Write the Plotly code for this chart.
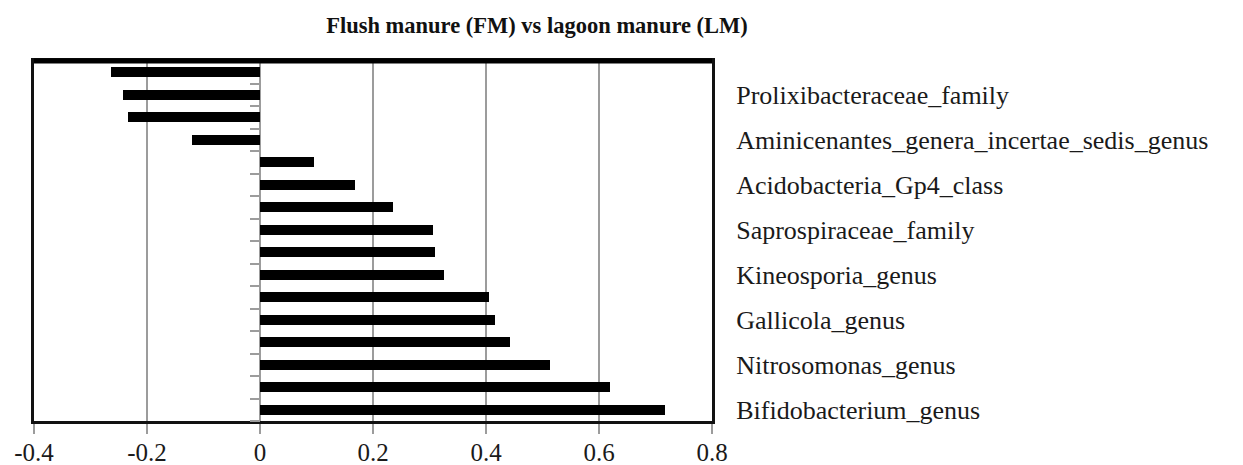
import plotly.graph_objects as go

# Data (top to bottom)
tick_labels = ["", "Prolixibacteraceae_family",
               "", "Aminicenantes_genera_incertae_sedis_genus",
               "", "Acidobacteria_Gp4_class",
               "", "Saprospiraceae_family",
               "", "Kineosporia_genus",
               "", "Gallicola_genus",
               "", "Nitrosomonas_genus",
               "", "Bifidobacterium_genus"]
values = [-0.264, -0.243, -0.234, -0.121,
          0.096, 0.169, 0.236, 0.306,
          0.309, 0.326, 0.406, 0.416,
          0.443, 0.513, 0.620, 0.717]
positions = list(range(len(values)))
x_range = [-0.4, 0.8]
x_ticks = [-0.4, -0.2, 0, 0.2, 0.4, 0.6, 0.8]
x_ticktext = ["-0.4", "-0.2", "0", "0.2", "0.4", "0.6", "0.8"]
title = "Flush manure (FM) vs lagoon manure (LM)"

FONT = "Liberation Serif"
GRID = "#9c9c9c"

fig = go.Figure()
fig.add_trace(go.Bar(
    x=values, y=positions, orientation="h",
    marker=dict(color="black", line=dict(width=0)),
    width=0.43, showlegend=False, hoverinfo="x",
))
# invisible trace for the tick axis at zero
fig.add_trace(go.Scatter(x=[None], y=[None], yaxis="y2", showlegend=False))

y_range = [len(values) - 0.5, -0.5]
boundaries = [p - 0.5 for p in positions] + [positions[-1] + 0.5]
zero_pos = (0 - x_range[0]) / (x_range[1] - x_range[0])

fig.update_layout(
    width=1243, height=465,
    margin=dict(l=34, r=531, t=61, b=44, autoexpand=False),
    paper_bgcolor="white", plot_bgcolor="white",
    bargap=0,
    font=dict(family=FONT, color="#1a1a1a", size=26),
    title=dict(text="<b>" + title + "</b>", x=537 / 1243, xanchor="center",
               xref="container", yref="container",
               y=1 - 25 / 465, yanchor="middle",
               font=dict(family=FONT, size=22.5, color="#111")),
    xaxis=dict(range=x_range, tickvals=x_ticks, ticktext=x_ticktext,
               showgrid=True, gridcolor=GRID, gridwidth=2,
               zeroline=True, zerolinecolor=GRID, zerolinewidth=2,
               ticks="outside", ticklen=10, tickwidth=2, tickcolor=GRID,
               showline=True, linecolor="#111", linewidth=3, mirror=True,
               ticklabelstandoff=-3,
               tickfont=dict(size=25, family=FONT, color="#1a1a1a"),
               automargin=False, fixedrange=True),
    yaxis=dict(range=y_range, tickvals=positions, ticktext=tick_labels,
               side="right", ticks="", showgrid=False, zeroline=False,
               showline=True, linecolor="#111", linewidth=3, mirror=True,
               ticklabelstandoff=16,
               tickfont=dict(size=26, family=FONT, color="#1a1a1a"),
               automargin=False, fixedrange=True),
    yaxis2=dict(range=y_range, overlaying="y", anchor="free", position=zero_pos,
                side="left", tickvals=boundaries, showticklabels=False,
                ticks="outside", ticklen=10, tickwidth=2, tickcolor=GRID,
                showline=False, showgrid=False, zeroline=False,
                automargin=False, fixedrange=True),
)
# thicker top border like the original
fig.add_shape(type="line", xref="paper", yref="paper", x0=0, x1=1, y0=1, y1=1,
              line=dict(color="black", width=5))

fig.write_html("out.html", config={"displayModeBar": False},
               post_script="document.body.style.margin='0';document.body.style.overflow='hidden';")
